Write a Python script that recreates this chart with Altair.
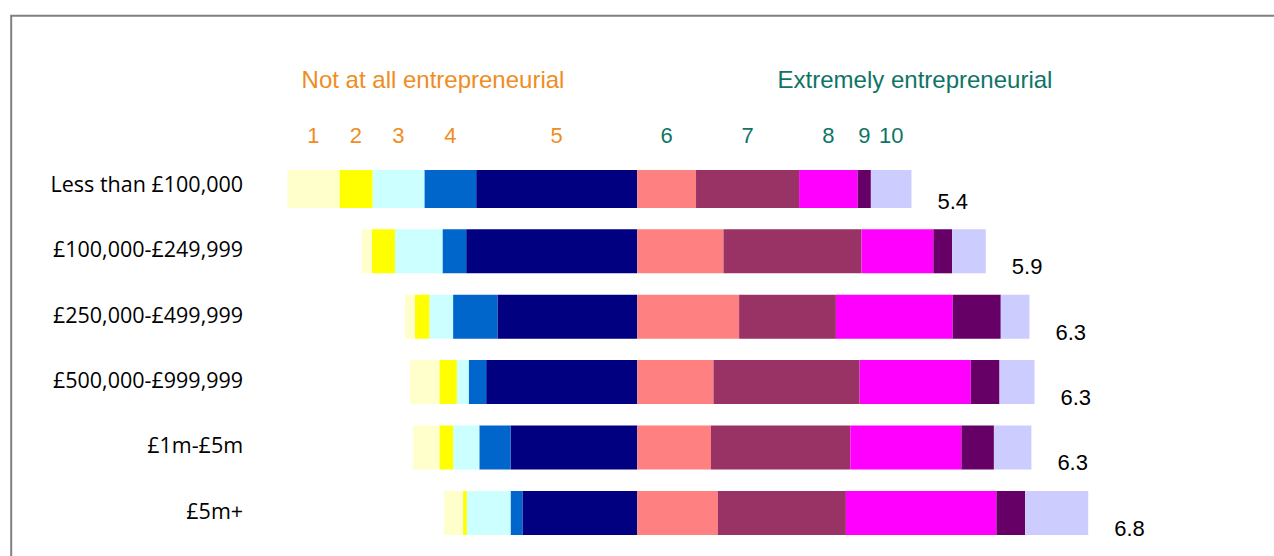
import altair as alt
import pandas as pd

# ---- data ----
categories = ["Less than £100,000", "£100,000-£249,999", "£250,000-£499,999",
              "£500,000-£999,999", "£1m-£5m", "£5m+"]
levels = [1, 2, 3, 4, 5, 6, 7, 8, 9, 10]
level_colors = ["#FFFFCC", "#FFFF00", "#CCFFFF", "#0066CC", "#000080",
                "#FF8080", "#993366", "#FF00FF", "#660066", "#CCCCFF"]

# percentage of respondents giving each score 1..10
share_lt100k = [8.3, 5.3, 8.3, 8.3, 25.8, 9.4, 16.5, 9.4, 2.1, 6.5]
share_100_250k = [1.6, 3.7, 7.6, 3.8, 27.4, 13.8, 22.1, 11.5, 3.0, 5.4]
share_250_500k = [1.6, 2.3, 3.8, 7.1, 22.4, 16.3, 15.5, 18.7, 7.7, 4.6]
share_500_1m = [4.7, 2.8, 1.9, 2.8, 24.2, 12.2, 23.4, 17.8, 4.6, 5.6]
share_1m_5m = [4.2, 2.2, 4.2, 5.0, 20.3, 11.8, 22.3, 17.8, 5.2, 6.0]
share_5m_plus = [3.0, 0.6, 7.0, 1.9, 18.4, 12.9, 20.5, 24.1, 4.6, 10.1]
shares = [share_lt100k, share_100_250k, share_250_500k,
          share_500_1m, share_1m_5m, share_5m_plus]

mean_scores = [5.4, 5.9, 6.3, 6.3, 6.3, 6.8]

left_title = "Not at all entrepreneurial"
right_title = "Extremely entrepreneurial"

ORANGE = "#EF8D1F"
TEAL = "#0F7466"

# ---- build diverging stacks (1-5 to the left of zero, 6-10 to the right) ----
rows = []
means_rows = []
for cat, vals, m in zip(categories, shares, mean_scores):
    left = 0.0
    for lvl in [5, 4, 3, 2, 1]:
        v = vals[lvl - 1]
        rows.append(dict(cat=cat, level=lvl, start=left - v, end=left))
        left -= v
    right = 0.0
    for lvl in [6, 7, 8, 9, 10]:
        v = vals[lvl - 1]
        rows.append(dict(cat=cat, level=lvl, start=right, end=right + v))
        right += v
    means_rows.append(dict(cat=cat, mean=f"{m:.1f}", end=right))

df = pd.DataFrame(rows)
df["mid"] = (df["start"] + df["end"]) / 2
df_means = pd.DataFrame(means_rows)
df_head = df[df["cat"] == categories[0]].copy()

x_scale = alt.Scale(domain=[-60, 75], nice=False, zero=False)
y_scale = alt.Scale(domain=categories, range=[-6.1, 364.9],
                    paddingInner=0.3272, paddingOuter=0)

bars = alt.Chart(df).mark_bar(clip=True).encode(
    x=alt.X("start:Q", scale=x_scale, axis=None),
    x2="end:Q",
    y=alt.Y("cat:N", scale=y_scale, sort=categories, title=None,
            axis=alt.Axis(domain=False, ticks=False, labelPadding=20,
                          labelFont="Open Sans", labelFontSize=21.5,
                          labelColor="#000000", labelLimit=400)),
    color=alt.Color("level:O", scale=alt.Scale(domain=levels, range=level_colors),
                    legend=None),
)

mean_text = alt.Chart(df_means).mark_text(
    align="left", baseline="middle", dx=26, dy=16,
    font="Liberation Sans", fontSize=22, color="#000000",
).encode(
    x=alt.X("end:Q", scale=x_scale),
    y=alt.Y("cat:N", scale=y_scale, sort=categories),
    text="mean:N",
)

head_nums = alt.Chart(df_head).mark_text(
    align="center", baseline="middle", font="Liberation Sans", fontSize=22,
).encode(
    x=alt.X("mid:Q", scale=x_scale),
    y=alt.value(-34),
    text="level:N",
    color=alt.condition(alt.datum.level <= 5, alt.value(ORANGE), alt.value(TEAL)),
)

title_left = alt.Chart(pd.DataFrame({"t": [left_title]})).mark_text(
    align="left", baseline="middle", font="Liberation Sans", fontSize=24, color=ORANGE,
).encode(x=alt.value(39), y=alt.value(-89), text="t:N")

title_right = alt.Chart(pd.DataFrame({"t": [right_title]})).mark_text(
    align="left", baseline="middle", font="Liberation Sans", fontSize=24, color=TEAL,
).encode(x=alt.value(515), y=alt.value(-89), text="t:N")

border_left = alt.Chart(pd.DataFrame({"a": [0]})).mark_rule(
    color="#808080", strokeWidth=2).encode(
    x=alt.value(-251.4), y=alt.value(-154.2), y2=alt.value(400))
border_top = alt.Chart(pd.DataFrame({"a": [0]})).mark_rule(
    color="#808080", strokeWidth=2).encode(
    x=alt.value(-252.4), x2=alt.value(1020), y=alt.value(-154.2))

chart = alt.layer(
    bars, mean_text, head_nums, title_left, title_right, border_left, border_top
).properties(
    width=843.1, height=386,
    autosize=alt.AutoSizeParams(type="none"),
    padding={"left": 262.6, "top": 170, "right": 168.3, "bottom": 0},
    background="#FFFFFF",
).configure_view(strokeWidth=0)

chart.save("out.html", embed_options={"renderer": "svg", "actions": False})
